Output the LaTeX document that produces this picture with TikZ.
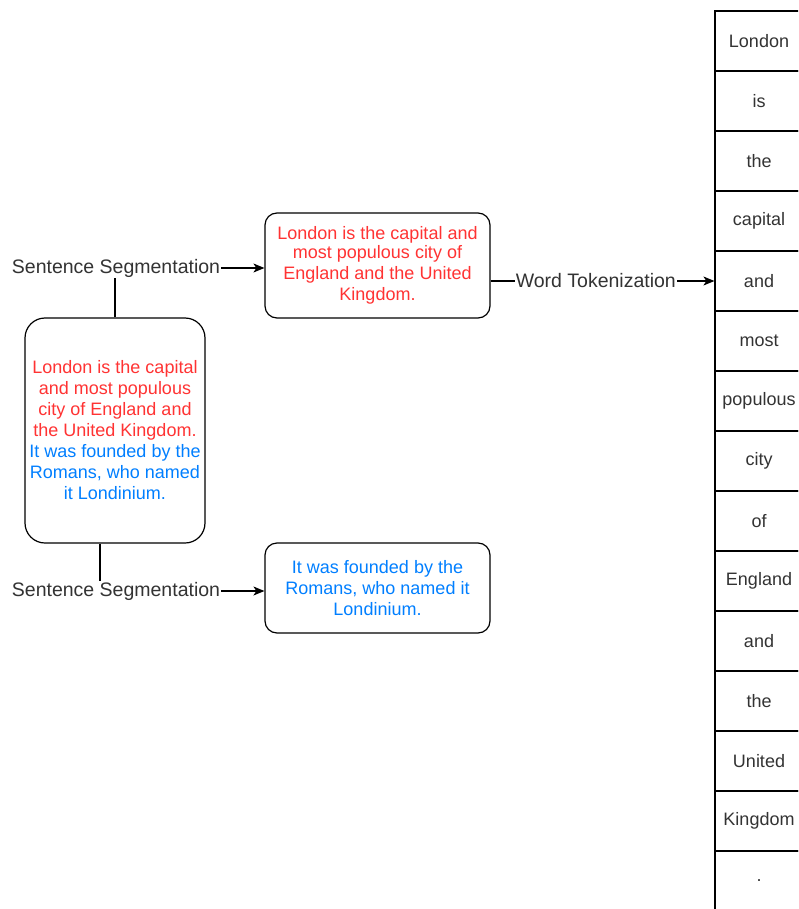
\documentclass[tikz,border=0pt]{standalone}
\usepackage{fontspec}
\setmainfont{Liberation Sans}
\usetikzlibrary{positioning,arrows.meta,calc}
\definecolor{ink}{HTML}{000000}
\definecolor{labelgrey}{HTML}{333333}
\definecolor{redtext}{HTML}{FF3333}
\definecolor{bluetext}{HTML}{007FFF}
\tikzset{
  srcbox/.style={draw=ink,line width=1.2pt,rounded corners=20pt,minimum width=180pt,minimum height=225pt,align=center,font=\fontsize{18}{21}\selectfont},
  sentbox/.style={draw=ink,line width=1.2pt,rounded corners=12pt,minimum width=225pt,align=center,font=\fontsize{18}{21}\selectfont},
  tokcell/.style={draw=ink,line width=1.2pt,minimum width=88pt,minimum height=60pt,inner sep=0pt,text=labelgrey,font=\fontsize{18}{21}\selectfont},
  steplbl/.style={text=labelgrey,font=\fontsize{19.5}{23}\selectfont,inner sep=1pt,fill=white},
  link/.style={draw=ink,line width=1.2pt},
  flow/.style={-{Stealth[length=11pt,width=9pt,inset=3pt]},draw=ink,line width=1.2pt}}
\begin{document}
\begin{tikzpicture}[x=1pt,y=-1pt]
  \path[clip] (0,0) rectangle (798,909);
  \fill[white] (0,0) rectangle (798,909);
  % whole paragraph
  \node[srcbox] (src) at (115,430.5) {\textcolor{redtext}{London is the capital}\\\textcolor{redtext}{and most populous}\\\textcolor{redtext}{city of England and}\\\textcolor{redtext}{the United Kingdom.}\\\textcolor{bluetext}{It was founded by the}\\\textcolor{bluetext}{Romans, who named}\\\textcolor{bluetext}{it Londinium.}};
  % the two sentences
  \node[sentbox,minimum height=105pt,text=redtext] (s1) at (377.5,265.5) {\raisebox{-2pt}{London is the capital and}\\most populous city of\\England and the United\\Kingdom.};
  \node[sentbox,minimum height=90pt,text=bluetext] (s2) at (377.5,588) {It was founded by the\\Romans, who named it\\Londinium.};
  \node[steplbl] (seg1) at (116,268) {Sentence Segmentation};
  \node[steplbl] (seg2) at (116,591) {Sentence Segmentation};
  % tokens
  \foreach \w [count=\i] in {London,is,the,capital,and,most,populous,city,of,England,and,the,United,Kingdom,.}
    \node[tokcell] (tok\i) at (759,{41+60*(\i-1)}) {\w};
  \draw[link] (src.north) -- (src.north |- seg1.south);
  \draw[link] ([xshift=-15pt]src.south) -- ([xshift=-15pt]src.south |- seg2.north);
  \draw[flow] (seg1.east) -- (seg1.east -| s1.west);
  \draw[flow] (seg2.east) -- (seg2.east -| s2.west);
  \draw[flow] (tok5.west -| s1.east) -- node[steplbl,pos=0.47]{Word Tokenization} (tok5.west);
\end{tikzpicture}
\end{document}
